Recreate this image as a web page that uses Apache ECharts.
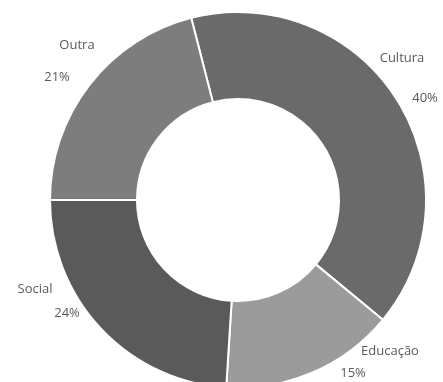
<!DOCTYPE html>
<html>
<head>
<meta charset="utf-8">
<script src="https://cdn.jsdelivr.net/npm/echarts@6/dist/echarts.min.js"></script>
<style>
  html, body { margin: 0; padding: 0; background: #fff; }
  #chart { width: 443px; height: 382px; }
</style>
</head>
<body>
<div id="chart"></div>
<script>
// categories and values, clockwise from top
var categories = ['Cultura', 'Educação', 'Social', 'Outra'];
var values = [40, 15, 24, 21];
var colors = ['#6a6a6a', '#9b9b9b', '#5a5a5a', '#7d7d7d'];

// label spots (name / percent) for each slice
var namePos = [[402, 58], [390, 351], [35, 289], [77, 45]];
var pctPos = [[425, 98], [353, 373], [67, 313], [57, 77]];

var pieData = [];
for (var i = 0; i < categories.length; i++) {
  pieData.push({ name: categories[i], value: values[i], itemStyle: { color: colors[i] } });
}

var labelFont = { fontFamily: 'Open Sans', fontSize: 13, color: '#5a5a5a' };

var myChart = echarts.init(document.getElementById('chart'));
var option = {
  animation: false,
  series: [
    {
      type: 'pie',
      center: [238, 200],
      radius: [101, 188],
      startAngle: 104.4,
      clockwise: true,
      avoidLabelOverlap: false,
      itemStyle: { borderColor: '#fff', borderWidth: 2 },
      label: Object.assign({ show: true, position: 'inside', formatter: '{b}' }, labelFont),
      labelLine: { show: false },
      labelLayout: function (params) {
        var p = namePos[params.dataIndex];
        return { x: p[0], y: p[1], align: 'center', verticalAlign: 'middle', hideOverlap: false };
      },
      emphasis: { disabled: true },
      data: pieData
    },
    {
      // invisible copy, only for the percent labels
      type: 'pie',
      center: [238, 200],
      radius: [101, 188],
      startAngle: 104.4,
      silent: true,
      avoidLabelOverlap: false,
      itemStyle: { color: 'transparent', borderWidth: 0 },
      label: Object.assign({ show: true, position: 'inside', formatter: '{d}%' }, labelFont),
      labelLine: { show: false },
      labelLayout: function (params) {
        var p = pctPos[params.dataIndex];
        return { x: p[0], y: p[1], align: 'center', verticalAlign: 'middle', hideOverlap: false };
      },
      emphasis: { disabled: true },
      data: values.map(function (v, i) { return { name: categories[i], value: v }; })
    }
  ]
};
myChart.setOption(option);
</script>
</body>
</html>
